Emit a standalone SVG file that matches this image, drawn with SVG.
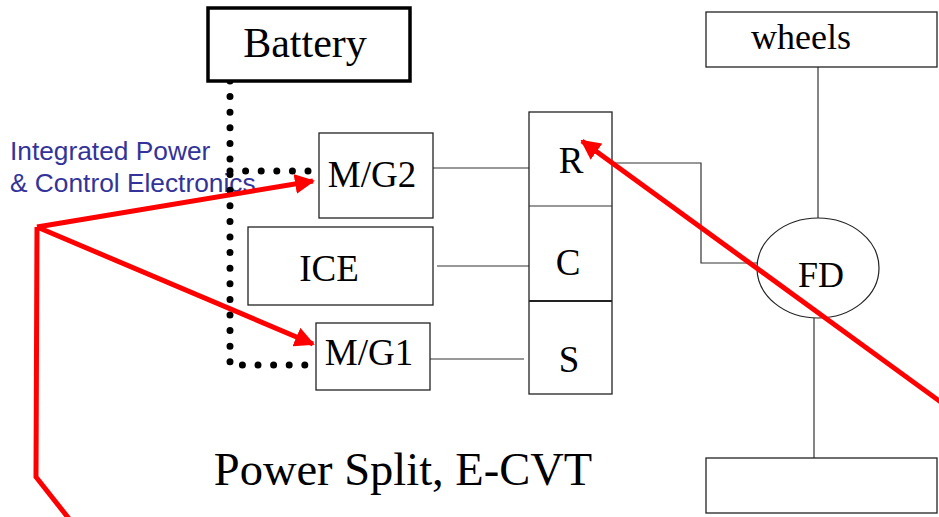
<svg xmlns="http://www.w3.org/2000/svg" width="939" height="517" viewBox="0 0 939 517">
<defs>
<style>
.box{fill:#fff;stroke:#222;stroke-width:1.3}
.t{font-family:"Liberation Serif","Times New Roman",serif;fill:#000;text-anchor:middle}
.thin{fill:none;stroke:#333;stroke-width:1.2}
.dots{fill:none;stroke:#000;stroke-width:7;stroke-linecap:round;stroke-dasharray:0 15.6}
.red{fill:none;stroke:#ff0000;stroke-width:5}
.lbl{font-family:"Liberation Sans",Arial,sans-serif;font-size:26.3px;fill:#333399}
</style>
<marker id="ah" viewBox="0 0 10 10" refX="9" refY="5" markerWidth="4" markerHeight="4" markerUnits="strokeWidth" orient="auto">
<path d="M0,0 L10,5 L0,10 z" fill="#ff0000"/>
</marker>
</defs>
<rect width="939" height="517" fill="#fff"/>

<g id="label">
<text class="lbl" x="10" y="160">Integrated Power</text>
<text class="lbl" x="10" y="192">&amp; Control Electronics</text>
</g>

<g id="title">
<text class="t" x="403" y="485" font-size="46.5">Power Split, E-CVT</text>
</g>

<g id="connectors">
<line class="thin" x1="433" y1="168" x2="529" y2="168"/>
<line class="thin" x1="437" y1="266" x2="535" y2="266"/>
<line class="thin" x1="430" y1="359" x2="524" y2="359"/>
<polyline class="thin" points="612,163 701,163 701,263 763,263"/>
<line class="thin" x1="818" y1="63" x2="818" y2="218"/>
<line class="thin" x1="814" y1="318" x2="814" y2="458"/>
<path class="dots" d="M230,81 L230,365 L308,365"/>
<path class="dots" d="M230,171 L312,171"/>
</g>

<g id="battery">
<rect x="208" y="8" width="202" height="73" fill="#fff" stroke="#000" stroke-width="3.5"/>
<text class="t" x="305" y="57" font-size="42">Battery</text>
</g>
<g id="mg2">
<rect class="box" x="319" y="133" width="114" height="85"/>
<text class="t" x="372" y="187" font-size="37">M/G2</text>
</g>
<g id="ice">
<rect class="box" x="248" y="227" width="185" height="78"/>
<text class="t" x="329" y="281" font-size="37">ICE</text>
</g>
<g id="mg1">
<rect class="box" x="316" y="323" width="114" height="67"/>
<text class="t" x="369" y="365" font-size="37">M/G1</text>
</g>
<g id="gearset">
<rect class="box" x="529" y="112" width="83" height="282"/>
<line class="thin" x1="529" y1="206" x2="612" y2="206"/>
<line x1="529" y1="301" x2="612" y2="301" stroke="#222" stroke-width="2"/>
<text class="t" x="571" y="173" font-size="37">R</text>
<text class="t" x="568" y="275" font-size="37">C</text>
<text class="t" x="569" y="372" font-size="37">S</text>
</g>
<g id="wheels">
<rect class="box" x="706" y="12" width="231" height="55"/>
<text class="t" x="801" y="49" font-size="36">wheels</text>
</g>
<g id="fd">
<ellipse cx="818" cy="268" rx="61" ry="50" fill="#fff" stroke="#222" stroke-width="1.2"/>
<text class="t" x="821" y="287" font-size="36">FD</text>
</g>
<g id="bottombox">
<rect class="box" x="706" y="458" width="231" height="55"/>
</g>

<g id="red-arrows">
<line class="red" x1="960" y1="416" x2="582" y2="141" stroke-width="5.5" marker-end="url(#ah)"/>
<polyline class="red" points="70,520 36,477 37,227"/>
<line class="red" x1="37" y1="227" x2="313" y2="181" marker-end="url(#ah)"/>
<line class="red" x1="37" y1="227" x2="313" y2="344" marker-end="url(#ah)"/>
</g>
</svg>
